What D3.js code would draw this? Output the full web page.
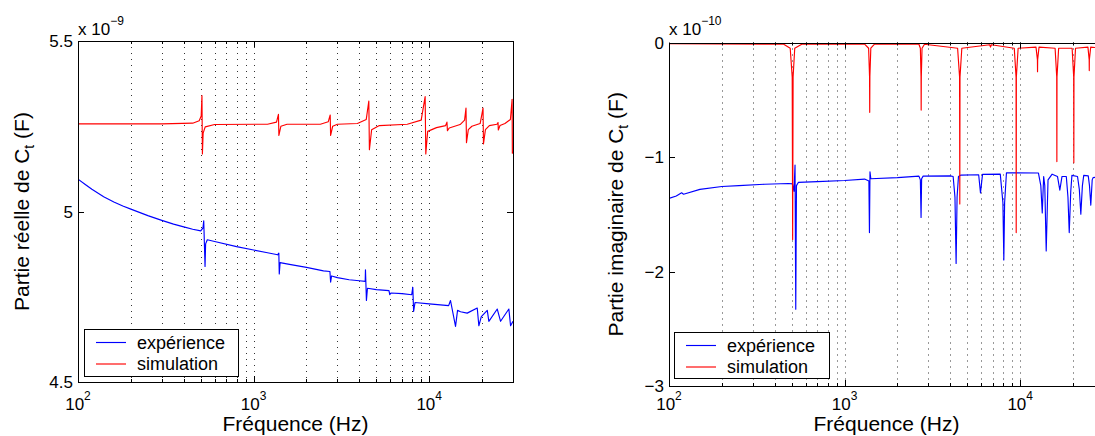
<!DOCTYPE html>
<html><head><meta charset="utf-8">
<script src="https://cdn.jsdelivr.net/npm/d3@7"></script>
<style>
html,body{margin:0;padding:0;background:#fff;overflow:hidden}
svg{display:block}
text{font-family:"Liberation Sans",Arial,Helvetica,sans-serif;fill:#000}
</style>
</head><body>
<svg id="chart" width="1095" height="436"></svg>
<script>
// ---------- data ----------
const xDomain = [100, 30000];
const xMajorTicks = [100, 1000, 10000];
const xTickExponents = ["2", "3", "4"];
const yTicksRe = [4.5, 5, 5.5];
const yTickLabelsRe = ["4.5", "5", "5.5"];
const yTicksIm = [0, -1, -2, -3];
const yTickLabelsIm = ["0", "\u22121", "\u22122", "\u22123"];
const legendLabels = ["expérience", "simulation"];

// Real part, simulation (x 1e-9 F)
const freqSimRe = [100,300,450,490,503,508,511,516,530,600,1200,1350,1385,1393,1430,1550,2400,2660,2730,2745,2820,3000,3900,4380,4530,4565,4700,5200,7500,9000,9480,9560,9800,11000,12400,12620,12700,13000,15000,15900,16200,16300,16700,17500,19500,20250,20370,20900,22000,24300,24650,24750,25300,27000,29000,29650,29750,30000];
const simRe = [5.257,5.257,5.259,5.266,5.280,5.340,5.169,5.230,5.248,5.255,5.256,5.262,5.285,5.223,5.250,5.256,5.256,5.263,5.283,5.223,5.250,5.256,5.258,5.270,5.324,5.181,5.240,5.252,5.256,5.268,5.337,5.169,5.235,5.246,5.252,5.262,5.237,5.245,5.255,5.268,5.303,5.202,5.240,5.250,5.258,5.303,5.198,5.240,5.252,5.256,5.261,5.239,5.252,5.258,5.270,5.329,5.171,5.175];

// Real part, experiment
const freqExpRe = [100,110,120,140,160,180,200,250,300,350,400,450,500,515,520,529,533,545,600,800,1000,1200,1370,1392,1400,1415,1600,2000,2500,2720,2745,2780,3000,3500,4000,4320,4335,4390,4450,5000,5900,5960,6050,7000,7950,8065,8150,8300,10000,12900,13220,14120,14500,15080,16460,18770,19170,19800,21410,21860,24410,25490,28410,29060,30000];
const expRe = [5.095,5.079,5.065,5.043,5.028,5.016,5.007,4.988,4.974,4.963,4.955,4.948,4.943,4.952,4.973,4.839,4.905,4.917,4.912,4.897,4.887,4.879,4.873,4.878,4.817,4.850,4.845,4.836,4.826,4.824,4.793,4.811,4.806,4.800,4.797,4.795,4.829,4.739,4.775,4.771,4.768,4.756,4.761,4.759,4.756,4.778,4.707,4.733,4.729,4.724,4.739,4.663,4.710,4.706,4.702,4.717,4.665,4.692,4.710,4.678,4.714,4.678,4.714,4.665,4.678];

// Imaginary part, simulation (x 1e-10 F)
const freqSimIm = [100,450,490,503,506,509,520,570,1300,1370,1387,1390,1393,1410,1480,2650,2700,2724,2729,2734,2760,2850,4400,4515,4528,4541,4650,6700,6773,6850,9250,9470,9489,9508,9730,12300,12530,12550,12570,12800,15800,16140,16170,16200,16550,19750,20160,20200,20240,20650,24300,24700,24730,24760,25200,29000,29600,29700,29800,30000];
const simIm = [-0.01,-0.015,-0.05,-0.3,-1.72,-0.3,-0.05,-0.015,-0.015,-0.05,-0.3,-0.61,-0.3,-0.05,-0.015,-0.015,-0.05,-0.3,-0.59,-0.3,-0.05,-0.015,-0.05,-0.3,-1.41,-0.3,-0.05,-0.02,-0.04,-0.02,-0.05,-0.3,-1.66,-0.3,-0.05,-0.04,-0.15,-0.255,-0.15,-0.04,-0.05,-0.3,-1.04,-0.3,-0.05,-0.05,-0.3,-1.05,-0.3,-0.05,-0.04,-0.15,-0.245,-0.15,-0.04,-0.05,-0.3,-1.7,-0.3,-0.1];

// Imaginary part, experiment
const freqExpIm = [100,110,118,121,150,200,250,350,480,505,515,522,527,532,545,700,1000,1300,1375,1385,1395,1410,2000,2650,2700,2725,2745,2800,4000,4150,4250,4315,4370,4450,4600,5800,5940,6100,7700,7970,8066,8150,8350,12700,13100,13350,13600,13800,14060,14400,15200,16300,16810,17300,18300,18700,19020,19400,19700,21200,21700,22140,22600,23000,24400,24800,25230,25700,26000,30000];
const expIm = [-1.362,-1.34,-1.313,-1.325,-1.283,-1.258,-1.25,-1.238,-1.231,-1.235,-1.30,-1.07,-2.33,-1.25,-1.222,-1.215,-1.205,-1.193,-1.21,-1.66,-1.129,-1.19,-1.18,-1.167,-1.2,-1.528,-1.19,-1.167,-1.165,-1.17,-1.35,-1.93,-1.35,-1.17,-1.158,-1.155,-1.313,-1.152,-1.15,-1.4,-1.90,-1.4,-1.138,-1.14,-1.25,-1.488,-1.17,-1.25,-1.82,-1.2,-1.15,-1.17,-1.289,-1.17,-1.17,-1.35,-1.66,-1.3,-1.16,-1.17,-1.28,-1.50,-1.25,-1.16,-1.165,-1.25,-1.42,-1.2,-1.18,-1.17];

// ---------- drawing ----------
const svg = d3.select("#chart");
const BLUE = "#0000ff", RED = "#ff0000";

function drawPanel(o) {
  const g = svg.append("g");
  const x = d3.scaleLog().domain(xDomain).range([o.x0, o.x1]);
  const y = d3.scaleLinear().domain(o.yDomain).range([o.yBot, o.yTop]);
  const clipId = "clip" + o.id;
  svg.append("defs").append("clipPath").attr("id", clipId)
    .append("rect").attr("x", o.x0).attr("y", o.yTop).attr("width", o.x1 - o.x0).attr("height", o.yBot - o.yTop);

  // dotted grid at all log ticks
  const gridTicks = x.ticks().filter(t => t > xDomain[0] && t < xDomain[1]);
  g.append("g").selectAll("line").data(gridTicks).join("line")
    .attr("x1", d => Math.round(x(d)) + 0.5).attr("x2", d => Math.round(x(d)) + 0.5)
    .attr("y1", o.yTop).attr("y2", o.yBot)
    .attr("stroke", "#333").attr("stroke-width", 1).attr("stroke-dasharray", "1 5");

  // series
  const line = d3.line().x(d => x(d[0])).y(d => y(d[1]));
  const sg = g.append("g").attr("clip-path", `url(#${clipId})`);
  o.series.forEach(s => {
    const pts = s.f.map((f, i) => [f, s.v[i]]);
    sg.append("path").datum(pts).attr("d", line)
      .attr("fill", "none").attr("stroke", s.color).attr("stroke-width", 1.15)
      .attr("stroke-linejoin", "round");
  });

  // box
  g.append("rect").attr("x", Math.round(o.x0) + 0.5).attr("y", Math.round(o.yTop) + 0.5)
    .attr("width", Math.round(o.x1) - Math.round(o.x0)).attr("height", Math.round(o.yBot) - Math.round(o.yTop))
    .attr("fill", "none").attr("stroke", "#000").attr("stroke-width", 1);

  // x ticks (inward, top and bottom)
  const allTicks = x.ticks();
  const isMajor = t => xMajorTicks.includes(t);
  const tg = g.append("g").attr("stroke", "#000").attr("stroke-width", 1);
  allTicks.forEach(t => {
    const px = Math.round(x(t)) + 0.5;
    const len = isMajor(t) ? 6 : 3;
    tg.append("line").attr("x1", px).attr("x2", px).attr("y1", o.yBot).attr("y2", o.yBot - len);
    tg.append("line").attr("x1", px).attr("x2", px).attr("y1", o.yTop).attr("y2", o.yTop + len);
  });
  // y ticks (inward, left and right)
  o.yTicks.forEach(t => {
    const py = Math.round(y(t)) + 0.5;
    tg.append("line").attr("x1", o.x0).attr("x2", o.x0 + 6).attr("y1", py).attr("y2", py);
    tg.append("line").attr("x1", o.x1).attr("x2", o.x1 - 6).attr("y1", py).attr("y2", py);
  });

  // x tick labels 10^n
  xMajorTicks.forEach((t, i) => {
    const tx = g.append("text").attr("x", x(t)).attr("y", o.yBot + o.tickLabelOffset)
      .attr("text-anchor", "middle").attr("font-size", 17).text("10");
    tx.append("tspan").attr("dy", -10).attr("font-size", 12).text(xTickExponents[i]);
  });
  // y tick labels
  o.yTicks.forEach((t, i) => {
    g.append("text").attr("x", o.x0 - 5).attr("y", y(t)).attr("dy", "0.36em")
      .attr("text-anchor", "end").attr("font-size", 17).text(o.yTickLabels[i]);
  });
  // exponent
  const ex = g.append("text").attr("x", o.x0).attr("y", 35).attr("font-size", 17).text("x 10");
  ex.append("tspan").attr("dy", -10).attr("font-size", 12).text(o.exponent);

  // axis titles
  g.append("text").attr("x", (o.x0 + o.x1) / 2).attr("y", o.xlabelY)
    .attr("text-anchor", "middle").attr("font-size", 21).text("Fréquence (Hz)");
  const yl = g.append("text")
    .attr("transform", `translate(${o.ylabelX},${(o.yTop + o.yBot) / 2}) rotate(-90)`)
    .attr("text-anchor", "middle").attr("font-size", 21).text(o.ylabelMain);
  yl.append("tspan").attr("dy", 5).attr("font-size", 14).text("t");
  yl.append("tspan").attr("dy", -5).text(" (F)");

  // legend
  const L = o.legend;
  const lg = g.append("g");
  lg.append("rect").attr("x", L.x + 0.5).attr("y", L.y + 0.5).attr("width", L.w).attr("height", L.h)
    .attr("fill", "#fff").attr("stroke", "#000").attr("stroke-width", 1);
  [BLUE, RED].forEach((c, i) => {
    const ly = L.y + 13.5 + i * 21.5;
    lg.append("line").attr("x1", L.x + 12).attr("x2", L.x + 42).attr("y1", ly).attr("y2", ly)
      .attr("stroke", c).attr("stroke-width", 1.15);
    lg.append("text").attr("x", L.x + 53).attr("y", ly + 6).attr("font-size", 18).text(legendLabels[i]);
  });
}

drawPanel({
  id: "re", x0: 78, x1: 513, yTop: 41, yBot: 382,
  yDomain: [4.5, 5.5], yTicks: yTicksRe, yTickLabels: yTickLabelsRe, exponent: "\u22129",
  series: [{ f: freqExpRe, v: expRe, color: BLUE }, { f: freqSimRe, v: simRe, color: RED }],
  ylabelMain: "Partie réelle de C", ylabelX: 28.5, xlabelY: 431, tickLabelOffset: 28,
  legend: { x: 84, y: 329, w: 154, h: 47 }
});
drawPanel({
  id: "im", x0: 669, x1: 1104, yTop: 42.5, yBot: 386,
  yDomain: [-3, 0], yTicks: yTicksIm, yTickLabels: yTickLabelsIm, exponent: "\u221210",
  series: [{ f: freqExpIm, v: expIm, color: BLUE }, { f: freqSimIm, v: simIm, color: RED }],
  ylabelMain: "Partie imaginaire de C", ylabelX: 623, xlabelY: 431.3, tickLabelOffset: 24.3,
  legend: { x: 674, y: 332, w: 155, h: 46 }
});
</script>
</body></html>
